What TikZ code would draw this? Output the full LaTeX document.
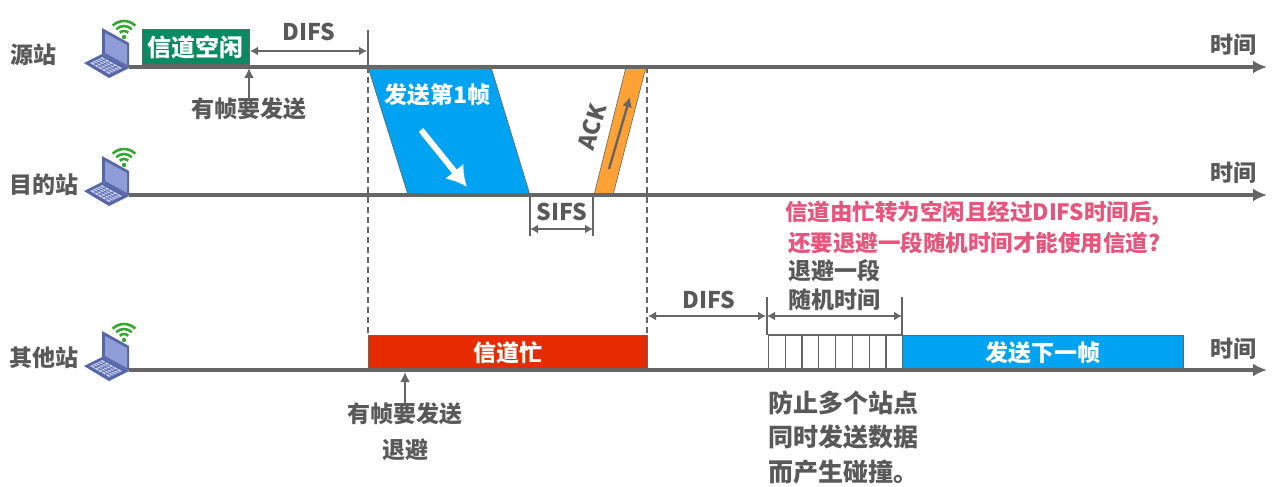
\documentclass[tikz,border=0pt]{standalone}
\usepackage{fontspec}
\setmainfont{Noto Sans CJK SC}
\definecolor{txtgray}{HTML}{595959}
\definecolor{linegray}{HTML}{666666}
\definecolor{idlegreen}{HTML}{0A8A60}
\definecolor{framblue}{HTML}{00A2F2}
\definecolor{busyred}{HTML}{E62B00}
\definecolor{ackorange}{HTML}{FFA236}
\definecolor{notepink}{HTML}{E8557C}
\definecolor{lapdark}{HTML}{5666A8}
\definecolor{lapmid}{HTML}{8E9DD6}
\definecolor{laplight}{HTML}{C4CEEE}
\definecolor{wifigreen}{HTML}{35A82F}
\usetikzlibrary{calc,arrows.meta}
\tikzset{
  laptop/.pic={
    \fill[lapdark] (-45,-4) -- (-27,-13) -- (0,1) -- (-20,11) -- cycle;
    \fill[laplight] (-39,-4) -- (-27,-10) -- (-7,1) -- (-20,7) -- cycle;
    \foreach \k in {0.2,0.4,0.6,0.8}
      \draw[lapdark, line width=.6pt] ($(-39,-4)!\k!(-27,-10)$) -- ($(-20,7)!\k!(-7,1)$);
    \foreach \k in {0.2,0.4,0.6,0.8}
      \draw[lapdark, line width=.6pt] ($(-39,-4)!\k!(-20,7)$) -- ($(-27,-10)!\k!(-7,1)$);
    \fill[lapdark] (-27,-39) -- (0,-24) -- (0,1) -- (-27,-13) -- cycle;
    \fill[lapmid] (-24,-34) -- (-2,-22) -- (-2,-2) -- (-24,-14) -- cycle;
    \foreach \r in {6,11,16}
      \draw[wifigreen, line width=2.6pt] (-5-.707*\r,-30-.707*\r)
        .. controls (-5-.317*\r,-30-1.097*\r) and (-5+.317*\r,-30-1.097*\r) .. (-5+.707*\r,-30-.707*\r);
    \fill[wifigreen] (-5,-30) circle (2.2);
  }
}
\begin{document}
\begin{tikzpicture}[
  x=1pt, y=-1pt,
  every node/.style={align=center, font=\fontsize{23}{27}\selectfont\bfseries, text=txtgray, inner sep=0pt},
  whitelbl/.style={text=white},
  whylbl/.style={anchor=west, font=\fontsize{25}{29}\selectfont\bfseries},
  notelbl/.style={anchor=west, text=notepink, font=\fontsize{22.5}{27}\selectfont\bfseries},
  slot/.style={draw=linegray, line width=1pt, minimum height=35pt},
  cellbox/.style={draw=linegray, line width=1.2pt, fill=white, minimum height=35pt, minimum width=16.8pt},
  timeaxis/.style={-{Latex[length=14pt,width=13pt]}, line width=3.2pt, draw=linegray},
  dimspan/.style={{Latex[length=8pt,width=9pt]}-{Latex[length=8pt,width=9pt]}, line width=2pt, draw=linegray},
  pointer/.style={-{Latex[length=10pt,width=10pt]}, line width=2.4pt, draw=linegray},
  tickline/.style={line width=1.2pt, draw=linegray},
  guideline/.style={dash pattern=on 6pt off 4pt, line width=1.2pt, draw=linegray}
]
  \useasboundingbox (0,0) rectangle (1280,487);

  % frames on the channel
  \fill[framblue, draw=linegray, line width=.6pt] (368,67) -- (491,67) -- (530,195) -- (408,195) -- cycle;
  \fill[ackorange, draw=linegray, line width=.6pt] (626,67) -- (646,67) -- (613,195) -- (594,195) -- cycle;

  % guides
  \coordinate (g1top) at (368,30);
  \coordinate (g1mid) at (368,67);
  \coordinate (g1bot) at (368,335);
  \coordinate (g2top) at (647,67);
  \coordinate (g2bot) at (647,335);
  \draw[tickline] (g1top) -- (g1mid);
  \draw[guideline] (g1mid) -- (g1bot);
  \draw[guideline] (g2top) -- (g2bot);

  \node[slot, fill=idlegreen, minimum width=107pt, whitelbl, font=\fontsize{24}{28}\selectfont\bfseries] (idle) at (195.5,47.5) {信道空闲};
  \node[slot, fill=busyred, minimum width=279pt, whitelbl] (busy) at (507.5,352.5) {信道忙};
  \foreach \i in {1,...,8}
    \node[cellbox] (cell\i) at (760+\i*16.8,352.5) {};
  \node[slot, fill=framblue, minimum width=281pt, whitelbl] (next) at (1042.5,352.5) {发送下一帧};

  % stations
  \pic at (129,67) {laptop};
  \pic at (129,195) {laptop};
  \pic at (129,370) {laptop};
  \node (srcst) at (33,55) {源站};
  \node (dstst) at (44,185) {目的站};
  \node (othst) at (44,358) {其他站};

  % time axes
  \coordinate (a1) at (129,67);
  \coordinate (a1e) at (1267,67);
  \coordinate (a2) at (129,195);
  \coordinate (a2e) at (1267,195);
  \coordinate (a3) at (129,370);
  \coordinate (a3e) at (1267,370);
  \draw[timeaxis] (a1) -- (a1e);
  \draw[timeaxis] (a2) -- (a2e);
  \draw[timeaxis] (a3) -- (a3e);
  \node (t1) at (1233,45) {时间};
  \node (t2) at (1233,173) {时间};
  \node (t3) at (1233,349) {时间};

  % first frame and its ack
  \node[whitelbl] (frame1) at (437,95) {发送第1帧};
  \coordinate (fs) at (421,130);
  \coordinate (fe) at (467,187);
  \draw[-{Latex[length=20pt,width=24pt]}, line width=6pt, draw=white] (fs) -- (fe);
  \node[rotate=73] (ack) at (592,127) {ACK};
  \coordinate (as) at (609,169);
  \coordinate (ae) at (630,97);
  \draw[pointer] (as) -- (ae);

  % spans
  \node (difs1) at (309,32) {DIFS};
  \coordinate (d1a) at (250,51);
  \coordinate (d1b) at (367,51);
  \draw[dimspan] (d1a) -- (d1b);

  \node (sifs) at (562,212) {SIFS};
  \coordinate (s1) at (530,195);
  \coordinate (s1b) at (530,236);
  \coordinate (s2) at (593,195);
  \coordinate (s2b) at (593,236);
  \coordinate (s1m) at (530,229);
  \coordinate (s2m) at (593,229);
  \draw[tickline] (s1) -- (s1b);
  \draw[tickline] (s2) -- (s2b);
  \draw[dimspan] (s1m) -- (s2m);

  \node (difs2) at (709,300) {DIFS};
  \coordinate (d2a) at (648,316);
  \coordinate (d2b) at (766,316);
  \draw[dimspan] (d2a) -- (d2b);

  \node (back1) at (834,271) {退避一段};
  \node (back2) at (834,300) {随机时间};
  \coordinate (b1) at (767,297);
  \coordinate (b1b) at (767,335);
  \coordinate (b2) at (902,297);
  \coordinate (b2b) at (902,335);
  \coordinate (b1m) at (767,316);
  \coordinate (b2m) at (902,316);
  \draw[tickline] (b1) -- (b1b);
  \draw[tickline] (b2) -- (b2b);
  \draw[dimspan] (b1m) -- (b2m);

  % labels with pointers
  \node (want1) at (249,109) {有帧要发送};
  \coordinate (w1) at (249,68);
  \draw[pointer] (want1.north) -- (w1);
  \node (want2) at (405,414) {有帧要发送};
  \coordinate (w2) at (405,372);
  \draw[pointer] (want2.north) -- (w2);
  \node (defer) at (405,450) {退避};

  \node[whylbl] (why1) at (768,403) {防止多个站点};
  \node[whylbl] (why2) at (768,437) {同时发送数据};
  \node[whylbl] (why3) at (768,472) {而产生碰撞。};

  \node[notelbl] (note1) at (785,213) {信道由忙转为空闲且经过DIFS时间后,};
  \node[notelbl] (note2) at (788,243) {还要退避一段随机时间才能使用信道?};
\end{tikzpicture}
\end{document}
